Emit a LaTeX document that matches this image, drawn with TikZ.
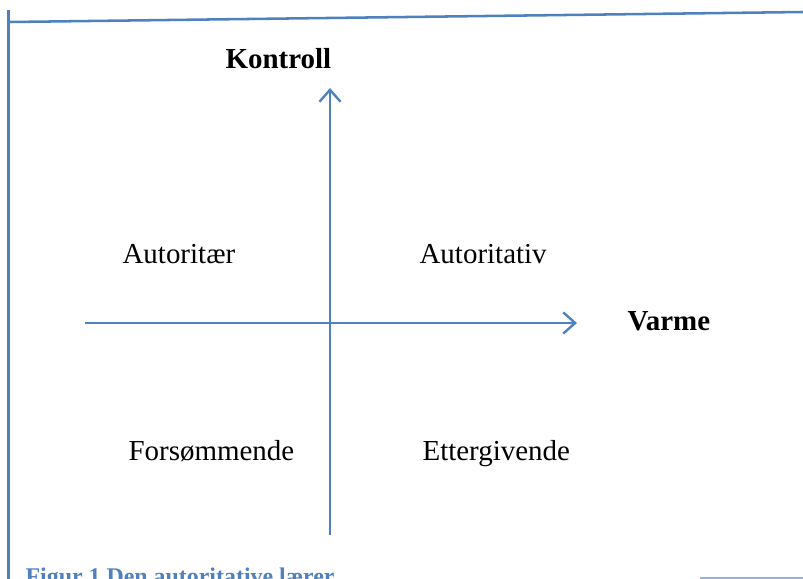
\documentclass[tikz,border=0pt]{standalone}
\usepackage{fontspec}
\setmainfont{Liberation Serif}
\usetikzlibrary{arrows.meta}
\definecolor{axisblue}{HTML}{4F81BD}

\begin{document}
\begin{tikzpicture}[x=0.025cm, y=-0.025cm, thick,
    axis/.style = {draw=axisblue, line width=1.9pt, -{Straight Barb[length=8.5pt, width=15pt, line width=1.7pt]}},
    frame/.style = {draw=axisblue, line width=1.8pt},
    lbl/.style = {anchor=base west, inner sep=0pt, font=\fontsize{20.6}{24}\selectfont},
    head/.style = {lbl, font=\fontsize{20.6}{24}\selectfont\bfseries}]
            \clip (0,0) rectangle (803,579);

            % frame
            \draw[frame] (8.5,10) -- (8.5,579);
            \draw[frame] (10,22) -- (803,12);
            \draw[frame, draw=axisblue!60] (700,578) -- (803,578);

            % axes
            \coordinate (vbot) at (330,535);
            \coordinate (vtop) at (330,88);
            \coordinate (hleft) at (85,323);
            \coordinate (hright) at (577,323);
            \draw[axis] (vbot) -- (vtop);
            \draw[axis] (hleft) -- (hright);

            % labels
            \node[head] (kontroll) at (225,68) {Kontroll};
            \node[head] (varme) at (627,330) {Varme};
            \node[lbl] (autoritaer) at (122,263) {Autoritær};
            \node[lbl] (autoritativ) at (419,263) {Autoritativ};
            \node[lbl] (forsommende) at (128,460) {Forsømmende};
            \node[lbl] (ettergivende) at (422,460) {Ettergivende};

            % caption
            \node[anchor=base west, inner sep=0pt, text=axisblue,
                  font=\fontsize{17}{20}\selectfont\bfseries] (caption) at (25,584) {Figur 1 Den autoritative lærer};
        \end{tikzpicture}
\end{document}
